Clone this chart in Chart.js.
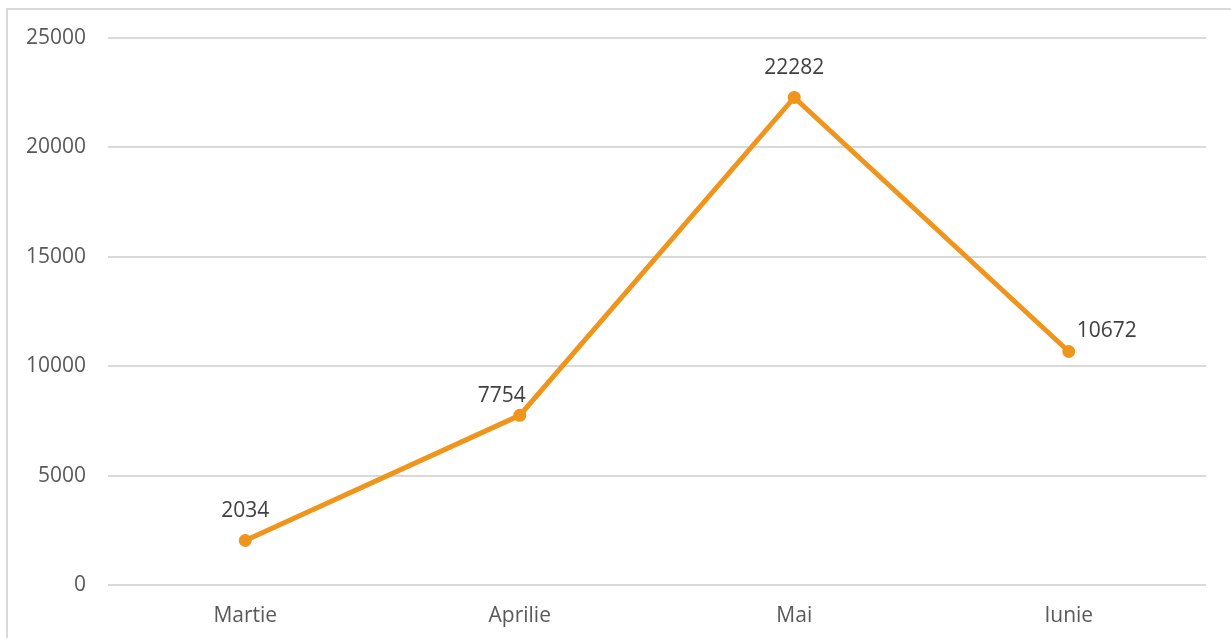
<!DOCTYPE html>
<html>
<head>
<meta charset="utf-8">
<script src="https://cdn.jsdelivr.net/npm/chart.js@4/dist/chart.umd.min.js"></script>
<style>
  html, body { margin: 0; padding: 0; background: #fff; overflow: hidden; }
  #frame { position: absolute; left: 6px; top: 8px; width: 1230px; height: 640px; border: 2px solid #d9d9d9; box-sizing: border-box; }
  #wrap { position: absolute; left: 0; top: 0; width: 1231px; height: 638px; }
</style>
</head>
<body>
<div id="frame"></div>
<div id="wrap"><canvas id="c" width="1231" height="638"></canvas></div>
<script>
const categories = ['Martie', 'Aprilie', 'Mai', 'Iunie'];
const values = [2034, 7754, 22282, 10672];
const yTicks = [0, 5000, 10000, 15000, 20000, 25000];
const labelPlacement = ['top', 'topLeft', 'top', 'right'];

const FONT = "'Open Sans', 'DejaVu Sans', sans-serif";

const dataLabels = {
  id: 'dataLabels',
  afterDatasetsDraw(chart) {
    const ctx = chart.ctx;
    const meta = chart.getDatasetMeta(0);
    ctx.save();
    ctx.font = '21px ' + FONT;
    ctx.fillStyle = '#404040';
    ctx.textBaseline = 'middle';
    meta.data.forEach((pt, i) => {
      const v = chart.data.datasets[0].data[i];
      const p = labelPlacement[i];
      let x = pt.x, y = pt.y;
      if (p === 'top') { ctx.textAlign = 'center'; y -= 29; }
      else if (p === 'topLeft') { ctx.textAlign = 'center'; x -= 18; y -= 19; }
      else if (p === 'right') { ctx.textAlign = 'left'; x += 8; y -= 20; }
      ctx.fillText(String(v), x, y);
    });
    ctx.restore();
  }
};

new Chart(document.getElementById('c'), {
  type: 'line',
  data: {
    labels: categories,
    datasets: [{
      data: values,
      borderColor: '#F0951C',
      backgroundColor: '#F0951C',
      borderWidth: 5,
      pointRadius: 6.5,
      pointHoverRadius: 6.5,
      pointBackgroundColor: '#F0951C',
      pointBorderWidth: 0,
      tension: 0,
      fill: false
    }]
  },
  options: {
    responsive: false,
    animation: false,
    layout: { padding: { left: 0, right: 25, top: 38, bottom: 0 } },
    plugins: { legend: { display: false }, tooltip: { enabled: false } },
    scales: {
      x: {
        offset: true,
        grid: { display: false, drawTicks: false },
        border: { display: false },
        ticks: { color: '#595959', font: { family: FONT, size: 21 }, padding: 18 },
        afterFit(scale) { scale.height = 53; }
      },
      y: {
        min: 0, max: 25000,
        afterBuildTicks(scale) { scale.ticks = yTicks.map(v => ({ value: v })); },
        grid: { color: '#d9d9d9', lineWidth: 2, drawTicks: false },
        border: { display: false },
        ticks: { color: '#595959', font: { family: FONT, size: 21 }, padding: 22, callback: v => String(v) },
        afterFit(scale) { scale.width = 108; }
      }
    }
  },
  plugins: [dataLabels]
});
</script>
</body>
</html>
